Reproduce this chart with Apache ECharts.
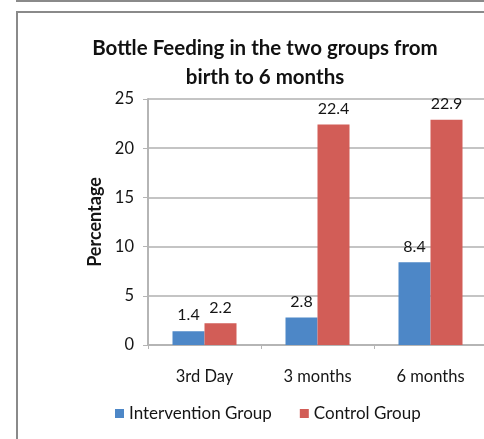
<!DOCTYPE html>
<html>
<head>
<meta charset="utf-8">
<script src="https://cdn.jsdelivr.net/npm/echarts@6/dist/echarts.min.js"></script>
<style>
  html, body { margin: 0; padding: 0; background: #fff; }
  #chart { width: 484px; height: 439px; }
</style>
</head>
<body>
<div id="chart"></div>
<script>
const categories = ['3rd Day', '3 months', '6 months']
const interventionGroup = [1.4, 2.8, 8.4]
const controlGroup = [2.2, 22.4, 22.9]
const seriesNames = ['Intervention Group', 'Control Group']

const myEcharts = echarts.init(document.getElementById('chart'))
const font = 'Lato'
const textColor = '#151515'

const option = {
  animation: false,
  textStyle: { fontFamily: font },
  title: {
    text: 'Bottle Feeding in the two groups from\nbirth to 6 months',
    left: 260,
    textAlign: 'center',
    top: 29,
    textStyle: { fontFamily: font, fontSize: 20.5, fontWeight: 'bold', color: '#111', lineHeight: 29 }
  },
  // frame around the chart
  graphic: [
    { type: 'line', shape: { x1: 16, y1: 1, x2: 484, y2: 1 }, style: { stroke: '#8a8a8a', lineWidth: 2 } },
    { type: 'polyline', shape: { points: [[17, 439], [17, 12], [484, 12]] }, style: { stroke: '#8a8a8a', lineWidth: 2, fill: null } }
  ],
  legend: {
    left: 110,
    top: 400,
    itemWidth: 9,
    itemHeight: 9,
    itemGap: 28,
    icon: 'rect',
    textStyle: { fontFamily: font, fontSize: 17, color: textColor },
    data: seriesNames
  },
  grid: {
    left: 148,
    top: 99,
    right: -3,
    bottom: 94,
    containLabel: false,
    outerBoundsMode: 'none'
  },
  xAxis: {
    type: 'category',
    data: categories,
    axisLine: { lineStyle: { color: '#b5b5b5', width: 2 } },
    axisTick: { show: true, length: 4, lineStyle: { color: '#b5b5b5' } },
    axisLabel: { fontFamily: font, fontSize: 16.5, color: textColor, margin: 23 }
  },
  yAxis: {
    type: 'value',
    min: 0,
    max: 25,
    interval: 5,
    name: 'Percentage',
    nameLocation: 'middle',
    nameGap: 39,
    nameTextStyle: { fontFamily: font, fontSize: 18, fontWeight: 'bold', color: textColor },
    axisLine: { show: true, lineStyle: { color: '#b5b5b5', width: 2 } },
    axisTick: { show: true, length: 5, lineStyle: { color: '#b5b5b5' } },
    axisLabel: { fontFamily: font, fontSize: 16.5, color: textColor, margin: 14 },
    splitLine: { lineStyle: { color: '#c4c4c4', width: 2 } }
  },
  series: [
    {
      name: seriesNames[0],
      type: 'bar',
      data: interventionGroup,
      barWidth: 32,
      barGap: '0%',
      itemStyle: { color: '#4d87c7' },
      label: { show: true, position: 'top', distance: 8, fontFamily: font, fontSize: 16, color: textColor }
    },
    {
      name: seriesNames[1],
      type: 'bar',
      data: controlGroup,
      barWidth: 32,
      barGap: '0%',
      itemStyle: { color: '#d25d57' },
      label: { show: true, position: 'top', distance: 8, fontFamily: font, fontSize: 16, color: textColor }
    }
  ]
}

myEcharts.setOption(option)
</script>
</body>
</html>
